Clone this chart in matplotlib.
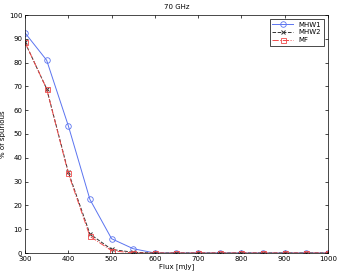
import matplotlib
matplotlib.use('Agg')
import matplotlib.pyplot as plt

flux = [300, 350, 400, 450, 500, 550, 600, 650, 700, 750, 800, 850, 900, 950, 1000]
mhw1 = [92.5, 81, 53.5, 22.5, 6, 1.8, 0, 0, 0, 0, 0, 0, 0, 0, 0]
mhw2 = [88.5, 69, 34, 8, 1.5, 0.3, 0, 0, 0, 0, 0, 0, 0, 0, 0]
mf = [88.5, 69, 33.5, 7, 1, 0, 0, 0, 0, 0, 0, 0, 0, 0, 0]

plt.rcParams['font.family'] = 'DejaVu Sans'
fig = plt.figure(figsize=(3.38, 2.73), dpi=100)
ax = fig.add_axes([25 / 338, 1 - 253 / 273, 303 / 338, 238 / 273])

ax.plot(flux, mhw1, '-', color='#5b74f0', lw=0.7, marker='o', ms=4,
        mfc='none', mew=0.6, label='MHW1')
ax.plot(flux, mhw2, '--', color='#333333', lw=0.7, marker='x', ms=2.8,
        mew=0.7, label='MHW2')
ax.plot(flux, mf, '-.', color='#f04a4a', lw=0.7, marker='s', ms=3.6,
        mfc='none', mew=0.6, label='MF')

ax.set_xlim(300, 1000)
ax.set_ylim(0, 100)
ax.set_xticks(range(300, 1001, 100))
ax.set_yticks(range(0, 101, 10))
ax.tick_params(direction='in', top=True, right=True, labelsize=5, length=2.5, width=0.5, pad=2)
for s in ax.spines.values():
    s.set_linewidth(0.5)

ax.set_xlabel('Flux [mJy]', fontsize=5, labelpad=1)
ax.set_ylabel('% of spurious', fontsize=5, labelpad=2)
ax.set_title('70 GHz', fontsize=5, pad=4)

leg = ax.legend(loc='upper right', fontsize=5, fancybox=False, framealpha=1,
                edgecolor='black', handlelength=3, borderpad=0.35, labelspacing=0.25,
                borderaxespad=0.6)
leg.get_frame().set_linewidth(0.5)

fig.savefig('out.png', dpi=100)
